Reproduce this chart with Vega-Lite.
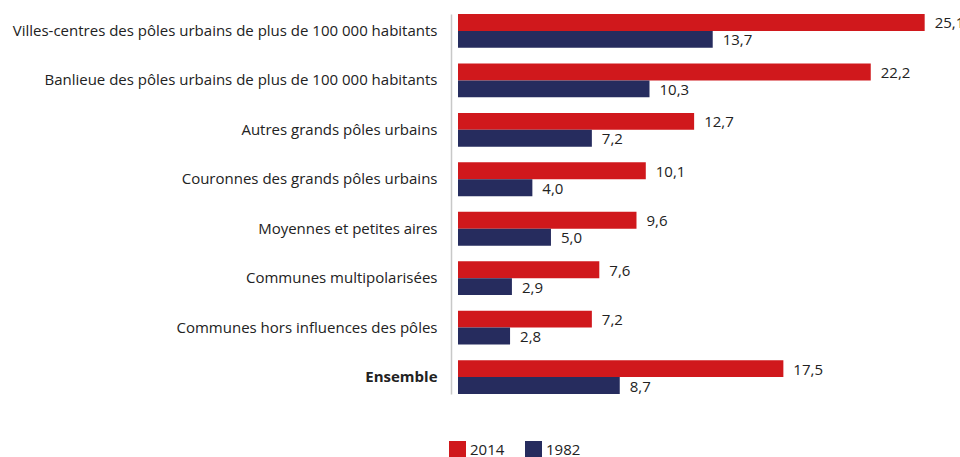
{
  "$schema": "https://vega.github.io/schema/vega-lite/v6.json",
  "autosize": {"type": "none"},
  "padding": {"left": 458, "top": 14, "right": 0, "bottom": 63},
  "width": 502,
  "height": 380,
  "background": "white",
  "config": {
    "view": {"stroke": null},
    "font": "Open Sans",
    "locale": {"number": {"decimal": ",", "thousands": " ", "grouping": [3], "currency": ["", " €"]}}
  },
  "data": {
    "values": [
      {"cat": "Villes-centres des pôles urbains de plus de 100 000 habitants", "year": "2014", "value": 25.1},
      {"cat": "Villes-centres des pôles urbains de plus de 100 000 habitants", "year": "1982", "value": 13.7},
      {"cat": "Banlieue des pôles urbains de plus de 100 000 habitants", "year": "2014", "value": 22.2},
      {"cat": "Banlieue des pôles urbains de plus de 100 000 habitants", "year": "1982", "value": 10.3},
      {"cat": "Autres grands pôles urbains", "year": "2014", "value": 12.7},
      {"cat": "Autres grands pôles urbains", "year": "1982", "value": 7.2},
      {"cat": "Couronnes des grands pôles urbains", "year": "2014", "value": 10.1},
      {"cat": "Couronnes des grands pôles urbains", "year": "1982", "value": 4.0},
      {"cat": "Moyennes et petites aires", "year": "2014", "value": 9.6},
      {"cat": "Moyennes et petites aires", "year": "1982", "value": 5.0},
      {"cat": "Communes multipolarisées", "year": "2014", "value": 7.6},
      {"cat": "Communes multipolarisées", "year": "1982", "value": 2.9},
      {"cat": "Communes hors influences des pôles", "year": "2014", "value": 7.2},
      {"cat": "Communes hors influences des pôles", "year": "1982", "value": 2.8},
      {"cat": "Ensemble", "year": "2014", "value": 17.5},
      {"cat": "Ensemble", "year": "1982", "value": 8.7}
    ]
  },
  "encoding": {
    "y": {
      "field": "cat",
      "type": "nominal",
      "sort": null,
      "scale": {"paddingInner": 0.315, "paddingOuter": 0},
      "axis": {
        "title": null,
        "offset": 7,
        "ticks": false,
        "domainColor": "#c8c8c8",
        "domainWidth": 1.5,
        "labelFontSize": 15,
        "labelColor": "#222222",
        "labelPadding": 14,
        "labelLimit": 460,
        "labelFontWeight": {"condition": {"test": "datum.value == 'Ensemble'", "value": "bold"}, "value": "normal"}
      }
    },
    "yOffset": {"field": "year", "type": "nominal", "sort": ["2014", "1982"], "scale": {"paddingInner": 0, "paddingOuter": 0}},
    "x": {"field": "value", "type": "quantitative", "scale": {"domain": [0, 27], "nice": false, "zero": true}, "axis": null}
  },
  "layer": [
    {
      "mark": {"type": "bar"},
      "encoding": {
        "color": {
          "field": "year",
          "type": "nominal",
          "scale": {"domain": ["2014", "1982"], "range": ["#d0181c", "#262c5e"]},
          "legend": {
            "title": null,
            "orient": "none",
            "direction": "horizontal",
            "legendX": -9,
            "legendY": 427,
            "padding": 0,
            "symbolType": "square",
            "symbolSize": 289,
            "symbolStrokeWidth": 0,
            "symbolOpacity": 1,
            "labelFontSize": 15,
            "labelColor": "#222222",
            "columnPadding": 20,
            "labelOffset": 4
          }
        }
      }
    },
    {
      "mark": {"type": "text", "align": "left", "baseline": "middle", "dx": 10, "dy": 1, "fontSize": 15, "color": "#222222"},
      "encoding": {
        "text": {"field": "value", "type": "quantitative", "format": ".1f"}
      }
    }
  ]
}
